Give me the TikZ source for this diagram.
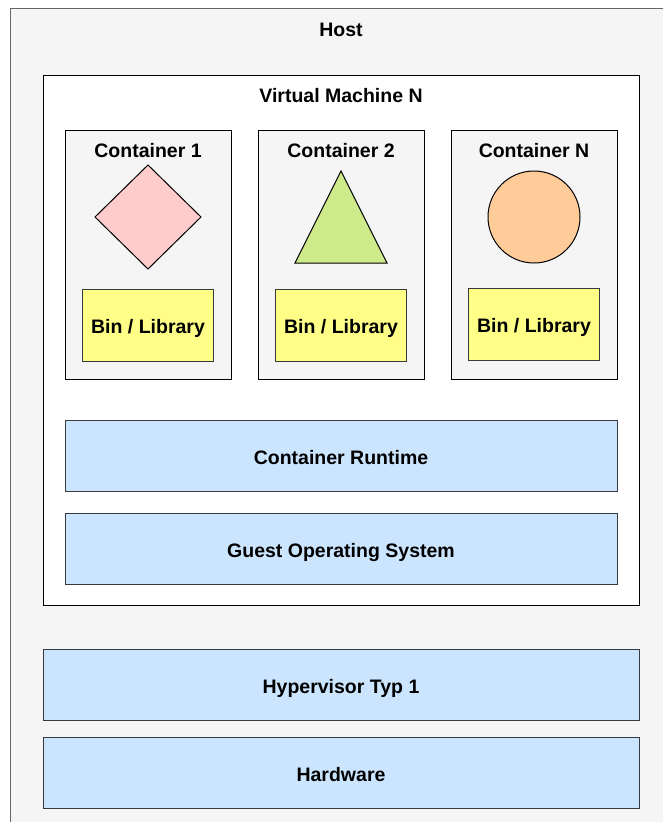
\documentclass[tikz,border=0pt]{standalone}
\usepackage{fontspec}
\setmainfont{Liberation Sans}
\usetikzlibrary{shapes.geometric, positioning}

\definecolor{hostfill}{HTML}{F5F5F5}
\definecolor{hostline}{HTML}{666666}
\definecolor{boxline}{HTML}{36393D}
\definecolor{layerblue}{HTML}{CCE5FF}
\definecolor{libyellow}{HTML}{FFFF88}
\definecolor{shapered}{HTML}{FFCCCC}
\definecolor{shapegreen}{HTML}{CDEB8B}
\definecolor{shapeorange}{HTML}{FFCC99}

\begin{document}
\begin{tikzpicture}[
    x=1pt, y=1pt,
    node distance=20pt,
    boxtext/.style={font=\fontsize{19.5}{23}\selectfont\bfseries},
    hostbox/.style={rectangle, draw=hostline, fill=hostfill, line width=1pt, minimum width=662pt, minimum height=830pt, inner sep=0pt, outer sep=0pt},
    vmbox/.style={rectangle, draw=black, fill=white, line width=1pt, minimum width=596pt, minimum height=530pt, inner sep=0pt, outer sep=0pt},
    contbox/.style={rectangle, draw=black, fill=hostfill, line width=1pt, minimum width=166pt, minimum height=249pt, inner sep=0pt, outer sep=0pt},
    libbox/.style={rectangle, draw=boxline, fill=libyellow, line width=1pt, minimum width=131pt, minimum height=72pt, inner sep=0pt, outer sep=0pt, text height=17pt, text depth=0pt, boxtext},
    layerbox/.style={rectangle, draw=boxline, fill=layerblue, line width=1pt, minimum width=552pt, minimum height=71pt, inner sep=0pt, outer sep=0pt, text height=18pt, text depth=0pt, boxtext},
    title/.style={inner sep=0pt, outer sep=0pt, text height=14pt, text depth=4pt, boxtext},
    icon/.style={draw=black, line width=1pt, inner sep=0pt, outer sep=0pt}
]
\useasboundingbox (0,0) rectangle (662,-822);

% ============ HOST ============
\node[hostbox, anchor=north west] (host) at (10,-8) {};
\node[title, below=14pt of host.north] (hostlabel) {Host};

% ============ VIRTUAL MACHINE ============
\node[vmbox, below=67pt of host.north] (vm) {};
\node[title, below=13pt of vm.north] (vmlabel) {Virtual Machine N};

% Containers
\node[contbox, below=55pt of vm.north] (cont2) {};
\node[contbox, left=27pt of cont2] (cont1) {};
\node[contbox, right=27pt of cont2] (contn) {};
\node[title, below=13pt of cont1.north] (cont1label) {Container 1};
\node[title, below=13pt of cont2.north] (cont2label) {Container 2};
\node[title, below=13pt of contn.north] (contnlabel) {Container N};

% Icons
\node[icon, diamond, aspect=1, fill=shapered, minimum width=106pt, minimum height=104pt, below=35pt of cont1.north] (diamondicon) {};
\node[icon, isosceles triangle, isosceles triangle stretches, shape border rotate=90, fill=shapegreen, minimum width=92pt, minimum height=92pt, below=41pt of cont2.north] (triangleicon) {};
\node[icon, circle, fill=shapeorange, minimum size=92pt, below=41pt of contn.north] (circleicon) {};

% Libraries
\node[libbox, above=18pt of cont1.south] (lib1) {Bin / Library};
\node[libbox, above=18pt of cont2.south] (lib2) {Bin / Library};
\node[libbox, above=19pt of contn.south] (libn) {Bin / Library};

% Layers inside VM
\node[layerbox, below=41pt of cont2.south] (runtime) {Container Runtime};
\node[layerbox, below=22pt of runtime] (guestos) {Guest Operating System};

% ============ HOST LAYERS ============
\node[layerbox, minimum width=596pt, below=44pt of vm] (hypervisor) {Hypervisor Typ 1};
\node[layerbox, minimum width=596pt, below=17pt of hypervisor] (hardware) {Hardware};

\end{tikzpicture}
\end{document}
